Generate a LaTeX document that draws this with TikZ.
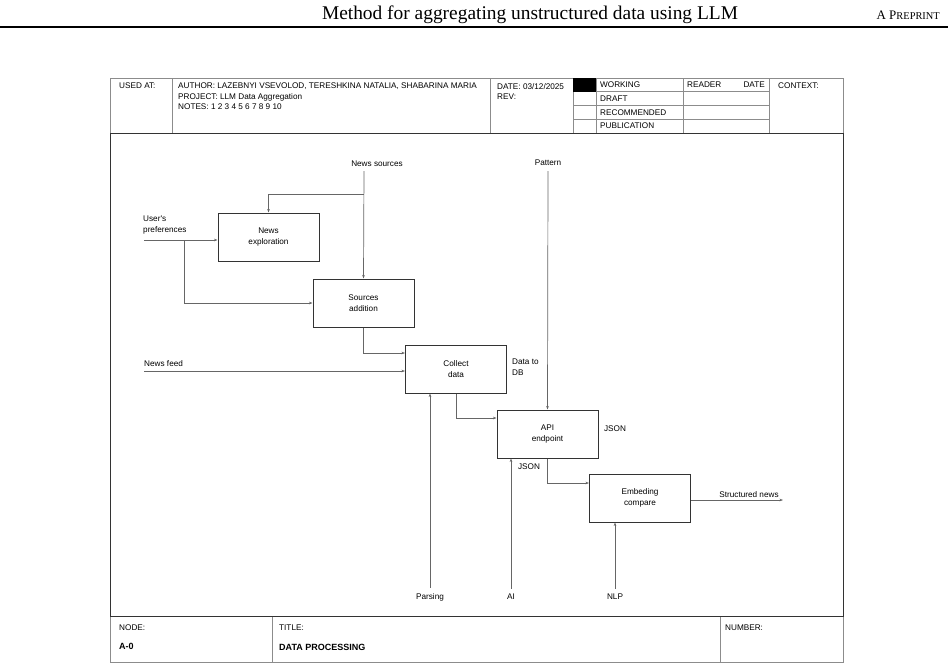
\documentclass[tikz,border=0pt]{standalone}
\usepackage{fontspec}
\setmainfont{Liberation Serif}
\newfontfamily\diagfont{Liberation Sans}
\usetikzlibrary{arrows.meta}
\newcommand{\sm}{\diagfont\fontsize{8.2}{10.5}\selectfont}
\newcommand{\smb}{\diagfont\bfseries\fontsize{9}{11}\selectfont}

\begin{document}
\begin{tikzpicture}[x=1pt,y=-1pt,
    box/.style={draw=black!80,line width=1pt,minimum width=101pt,minimum height=48pt,inner sep=0pt,align=center,font=\sm},
    lbl/.style={inner sep=0pt,align=left,font=\sm},
    flow/.style={draw=black!60,line width=0.7pt,-{Stealth[length=3.5pt,width=2.6pt]}},
    grid/.style={draw=black!45,line width=0.6pt},
    frame/.style={draw=black!80,line width=1pt}]
    \useasboundingbox (0,0) rectangle (948,670);

    \node (ttl) at (530,15) {\fontsize{19.4}{22}\selectfont Method for aggregating unstructured data using LLM};
    \node[anchor=east,inner sep=0pt] (pre) at (940,15) {\fontsize{13}{15}\selectfont A P\fontsize{10.4}{12}\selectfont REPRINT};
    \draw[line width=1.2pt] (0,27) -- (948,27);

    % form
    \draw[grid] (110,78) rectangle (843,662);
    \foreach \x in {172,490,573,596,683,769}
        \draw[grid] (\x,78) -- (\x,133);
    \foreach \y in {91.75,105.5,119.25}
        \draw[grid] (573,\y) -- (769,\y);
    \fill[black] (573,78) rectangle (596,91.75);
    \foreach \x in {272,720}
        \draw[grid] (\x,616) -- (\x,662);
    \draw[frame] (110,133) rectangle (843,616);

    \node[lbl,anchor=north west] (used) at (119,83) {USED AT:};
    \node[lbl,anchor=north west] (auth) at (178,83) {AUTHOR: LAZEBNYI VSEVOLOD, TERESHKINA NATALIA, SHABARINA MARIA\\PROJECT: LLM Data Aggregation\\NOTES: 1 2 3 4 5 6 7 8 9 10};
    \node[lbl,anchor=north west] (date) at (497,83) {DATE: 03/12/2025\\REV:};
    \node[lbl,anchor=west] (work) at (600,84.9) {WORKING};
    \node[lbl,anchor=west] (draft) at (600,98.6) {DRAFT};
    \node[lbl,anchor=west] (rec) at (600,112.4) {RECOMMENDED};
    \node[lbl,anchor=west] (pub) at (600,126.1) {PUBLICATION};
    \node[lbl,anchor=west] (read) at (687,84.9) {READER};
    \node[lbl,anchor=east] (rdate) at (765,84.9) {DATE};
    \node[lbl,anchor=north west] (ctx) at (778,83) {CONTEXT:};

    \node[lbl,anchor=west] (nodel) at (119,628) {NODE:};
    \node[lbl,anchor=west,font=\smb] (nodev) at (119,646) {A-0};
    \node[lbl,anchor=west] (titl) at (279,628) {TITLE:};
    \node[lbl,anchor=west,font=\smb] (titv) at (279,647) {DATA PROCESSING};
    \node[lbl,anchor=west] (numl) at (725,628) {NUMBER:};

    % activities
    \node[box] (ne) at (268.5,237) {News\\exploration};
    \node[box] (sa) at (363.5,303) {Sources\\addition};
    \node[box] (cd) at (456,369) {Collect\\data};
    \node[box] (api) at (547.5,434) {API\\endpoint};
    \node[box] (ec) at (640,498) {Embeding\\compare};

    \node[lbl] (srcl) at (377,164) {News sources};
    \node[lbl] (patl) at (548,163) {Pattern};
    \node[lbl,anchor=north west] (prefl) at (143,216) {User's\\preferences};
    \node[lbl,anchor=west] (feedl) at (144,364) {News feed};
    \node[lbl,anchor=north west] (dbl) at (512,359) {Data to\\DB};
    \node[lbl] (jsonr) at (615,429) {JSON};
    \node[lbl] (jsonb) at (529,467) {JSON};
    \node[lbl,anchor=south] (outl) at (749,497.5) {Structured news};
    \node[lbl] (parl) at (430,597) {Parsing};
    \node[lbl] (ail) at (511,597) {AI};
    \node[lbl] (nlpl) at (615,597) {NLP};

    \coordinate (srcT) at (364,171);
    \coordinate (srcB) at (364,194);
    \coordinate (patT) at (548,171);
    \coordinate (prefS) at (144,240);
    \coordinate (prefB) at (184,240);
    \coordinate (feedS) at (144,371);
    \coordinate (outE) at (783,500);

    \draw[flow] (srcT) -- (sa.north);
    \draw[flow] (srcB) -| (ne.north);
    \draw[flow] (patT) -- (api.north);
    \draw[flow] (prefS) -- (prefS -| ne.west);
    \draw[flow] (prefB) |- (sa.west);
    \draw[flow] (feedS) -- (feedS -| cd.west);
    \draw[flow] (sa.south) |- ([yshift=16pt]cd.west);
    \draw[flow] (cd.south) |- ([yshift=16pt]api.west);
    \draw[flow] (api.south) |- ([yshift=15pt]ec.west);
    \draw[flow] ([yshift=-2pt]ec.east) -- (outE);
    \draw[flow] ([yshift=5pt]parl.north) -- (parl.north |- cd.south);
    \draw[flow] ([yshift=5pt]ail.north) -- (ail.north |- api.south);
    \draw[flow] ([yshift=5pt]nlpl.north) -- (nlpl.north |- ec.south);
\end{tikzpicture}
\end{document}
